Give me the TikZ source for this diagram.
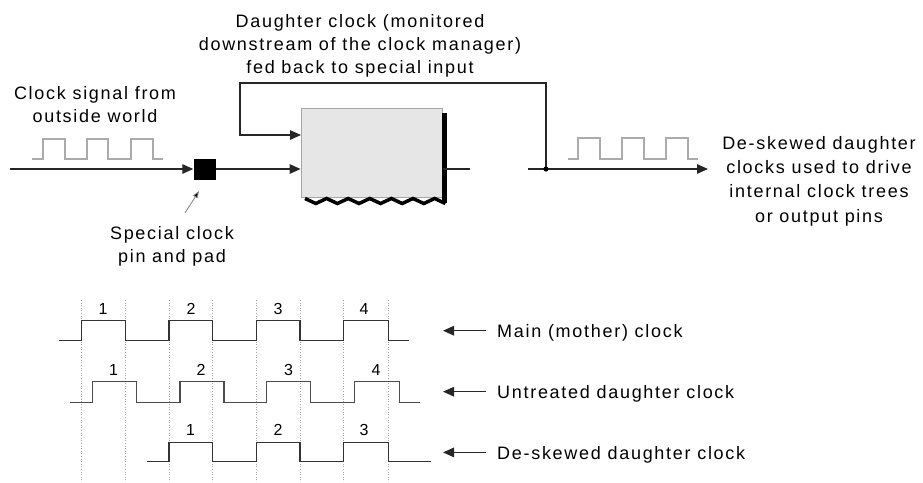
\documentclass[tikz,border=0pt]{standalone}
\usepackage{fontspec}
\setmainfont{Liberation Sans}[LetterSpace=9.5]
\usetikzlibrary{arrows.meta}
\definecolor{boxfill}{HTML}{E6E6E6}
\begin{document}
\begin{tikzpicture}[x=1pt,y=-1pt,
  wire/.style={draw=black!85, line width=1.3pt},
  arr/.style={wire, -{Triangle[length=11pt,width=9.5pt]}},
  wave/.style={draw=black!80, line width=1.4pt},
  ghost/.style={draw=black!33, line width=1.4pt},
  gridln/.style={draw=black!35, line width=0.6pt, dotted},
  lbl/.style={font=\fontsize{18}{23}\selectfont, inner sep=0pt, align=center},
  num/.style={font=\fontsize{16}{18}\selectfont, inner sep=0pt, anchor=base},
]
\useasboundingbox (0,0) rectangle (923,482);

% ---- clock manager box with shadow
\node[draw=black!35, fill=boxfill, line width=0.8pt, minimum width=141.5pt, minimum height=89pt, inner sep=0pt] (dcm) at (371.75,152.5) {};
\fill[black] (442.3,112.7) rectangle (447,203);
\draw[black, line width=3.5pt, line join=miter] (305,198.5) -- (315.8,203.5) -- (326.6,198.5) -- (337.4,203.5) -- (348.2,198.5) -- (359,203.5) -- (369.8,198.5) -- (380.6,203.5) -- (391.4,198.5) -- (402.2,203.5) -- (413,198.5) -- (423.8,203.5) -- (434.6,198.5) -- (445.4,203.5);

% ---- pad
\node[fill=black, minimum width=22pt, minimum height=21pt, inner sep=0pt] (pad) at (204.5,169) {};

% ---- wires
\coordinate (src) at (10,169);
\draw[arr] (src) -- (pad.west);
\draw[arr] (pad.east) -- (pad.east -| dcm.west);
\coordinate (stub) at (470,169);
\draw[wire] (stub -| dcm.east) -- (stub);
\coordinate (outstart) at (528,169);
\coordinate (tap) at (546,169);
\coordinate (outend) at (708,169);
\draw[arr] (outstart) -- (outend);
\coordinate (fbturn) at (240,83);
\coordinate (fbin) at (301,135);
\draw[arr] (tap) |- (fbturn) |- (fbin);
\fill[black] (tap) circle (2.6pt);

% ---- small waveforms
\draw[ghost] (32,159) -- (43,159) -- (43,139) -- (65,139) -- (65,159) -- (87,159) -- (87,139) -- (108,139) -- (108,159) -- (131,159) -- (131,139) -- (153,139) -- (153,159) -- (163,159);
\draw[ghost] (568,159) -- (578,159) -- (578,138) -- (600,138) -- (600,159) -- (622,159) -- (622,138) -- (644,138) -- (644,159) -- (666,159) -- (666,138) -- (688,138) -- (688,159) -- (698,159);

% ---- texts
\node[lbl, anchor=north] (fbtext) at (360,13.9) {Daughter clock (monitored\\downstream of the clock manager)\\fed back to special input};
\node[lbl, anchor=north] (srctext) at (95,86) {Clock signal from\\outside world};
\node[lbl, anchor=north] (padtext) at (172,226) {Special clock\\pin and pad};
\node[lbl, anchor=north, font=\fontsize{18}{24.3}\selectfont] (outtext) at (819,136) {De-skewed daughter\\clocks used to drive\\internal clock trees\\or output pins};

\coordinate (ptail) at (185,213);
\coordinate (ptip) at (199,191);
\draw[draw=black!50, line width=0.8pt, -{Triangle[length=7pt,width=5pt,fill=black]}] (ptail) -- (ptip);

% ---- timing diagram
\foreach \gx in {81.7,125.7,169,212.7,256.7,300,343.3,388.3}
  \draw[gridln] (\gx,300) -- (\gx,482);

\draw[wave] (59,340.7) -- (81.7,340.7) -- (81.7,320.7) -- (125.7,320.7) -- (125.7,340.7) -- (169,340.7) -- (169,320.7) -- (212.7,320.7) -- (212.7,340.7) -- (256.7,340.7) -- (256.7,320.7) -- (300,320.7) -- (300,340.7) -- (343.3,340.7) -- (343.3,320.7) -- (388.3,320.7) -- (388.3,340.7) -- (409.3,340.7);
\draw[wave, draw=black!70] (70,402.3) -- (92.3,402.3) -- (92.3,381.7) -- (136.7,381.7) -- (136.7,402.3) -- (180,402.3) -- (180,381.7) -- (224,381.7) -- (224,402.3) -- (266.7,402.3) -- (266.7,381.7) -- (310.7,381.7) -- (310.7,402.3) -- (354.3,402.3) -- (354.3,381.7) -- (399.3,381.7) -- (399.3,402.3) -- (420,402.3);
\draw[wave] (146.7,461.7) -- (169,461.7) -- (169,442.3) -- (212.7,442.3) -- (212.7,461.7) -- (256.7,461.7) -- (256.7,442.3) -- (300,442.3) -- (300,461.7) -- (343.3,461.7) -- (343.3,442.3) -- (388.3,442.3) -- (388.3,461.7) -- (430.7,461.7);

\node[num] (m1) at (103,314) {1};
\node[num] (m2) at (191,314) {2};
\node[num] (m3) at (278,314) {3};
\node[num] (m4) at (364,314) {4};
\node[num] (u1) at (113.5,375.7) {1};
\node[num] (u2) at (201,375.7) {2};
\node[num] (u3) at (288.5,375.7) {3};
\node[num] (u4) at (376,375.7) {4};
\node[num] (d1) at (190.5,435) {1};
\node[num] (d2) at (278,435) {2};
\node[num] (d3) at (364,435) {3};

\node[lbl, anchor=base west] (mainlbl) at (497,337.3) {Main (mother) clock};
\node[lbl, anchor=base west] (untlbl) at (497,398.3) {Untreated daughter clock};
\node[lbl, anchor=base west] (deslbl) at (497,459) {De-skewed daughter clock};
\coordinate (mainptr) at (443,330.7);
\coordinate (untptr) at (443,391.7);
\coordinate (desptr) at (443,452.4);
\draw[arr] ([xshift=-11pt,yshift=6.6pt]mainlbl.base west) -- (mainptr);
\draw[arr] ([xshift=-11pt,yshift=6.6pt]untlbl.base west) -- (untptr);
\draw[arr] ([xshift=-11pt,yshift=6.6pt]deslbl.base west) -- (desptr);
\end{tikzpicture}
\end{document}
